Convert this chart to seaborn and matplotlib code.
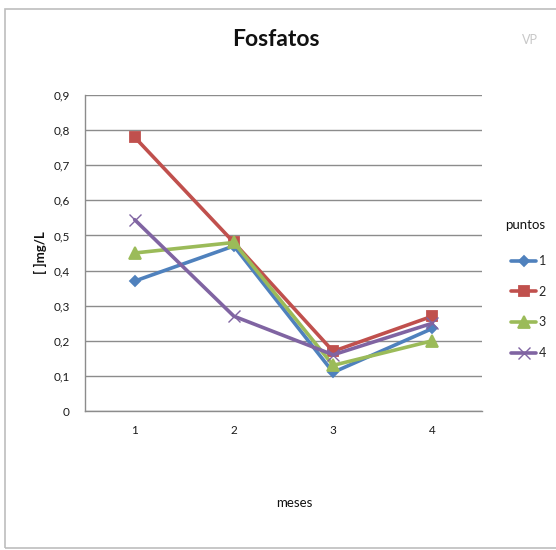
import matplotlib
matplotlib.use("Agg")
import matplotlib.pyplot as plt
from matplotlib.patches import Rectangle
import pandas as pd
import seaborn as sns

# Phosphate readings (mg/L) per sampling point over four months
meses = [1, 2, 3, 4]
punto_1 = [0.37, 0.47, 0.11, 0.235]
punto_2 = [0.78, 0.48, 0.17, 0.27]
punto_3 = [0.45, 0.48, 0.13, 0.20]
punto_4 = [0.545, 0.27, 0.16, 0.25]
puntos = ["1", "2", "3", "4"]
y_ticks = [0, 0.1, 0.2, 0.3, 0.4, 0.5, 0.6, 0.7, 0.8, 0.9]
y_tick_labels = ["0", "0,1", "0,2", "0,3", "0,4", "0,5", "0,6", "0,7", "0,8", "0,9"]

series = [punto_1, punto_2, punto_3, punto_4]
df = pd.DataFrame(
    [(m, p, v) for p, vals in zip(puntos, series) for m, v in zip(meses, vals)],
    columns=["mes", "punto", "valor"],
)

sns.set_theme(style="white")
plt.rcParams["font.family"] = ["Lato", "DejaVu Sans"]

palette = {"1": "#4F81BD", "2": "#C0504D", "3": "#9BBB59", "4": "#8064A2"}
markers = {"1": "D", "2": "s", "3": "^", "4": "x"}
msizes = {"1": 5.5, "2": 7.5, "3": 8, "4": 8}
medges = {"1": 1.3, "2": 1.3, "3": 1.3, "4": 1.0}

fig = plt.figure(figsize=(5.56, 5.5), dpi=100)
ax = fig.add_axes([85 / 556, 1 - 411 / 550, (482 - 85) / 556, (411 - 95) / 550])

for p in puntos:
    sub = df[df["punto"] == p]
    sns.lineplot(
        data=sub, x="mes", y="valor", color=palette[p], marker=markers[p],
        markersize=msizes[p], markeredgewidth=medges[p],
        markeredgecolor=palette[p], linewidth=2.6, label=p, ax=ax,
    )

ax.set_xlim(0.5, 4.5)
ax.set_ylim(0, 0.9)
ax.set_xticks(meses)
ax.set_xticklabels([str(m) for m in meses], fontsize=8.5, color="#1A1A1A")
ax.set_yticks(y_ticks)
ax.set_yticklabels(y_tick_labels, fontsize=8.5, color="#1A1A1A")
ax.tick_params(axis="both", length=0, pad=10)
ax.tick_params(axis="y", pad=11)
ax.grid(axis="y", color="#8C8C8C", linewidth=1)
ax.set_axisbelow(True)
for side in ["top", "right"]:
    ax.spines[side].set_visible(False)
for side in ["left", "bottom"]:
    ax.spines[side].set_color("#8C8C8C")
    ax.spines[side].set_linewidth(1)
ax.set_xlabel("")
ax.set_ylabel("")

fig.text(276 / 556, 1 - 40 / 550, "Fosfatos", ha="center", va="center",
         fontsize=16.5, fontweight="bold", color="#111111")
fig.text(530 / 556, 1 - 40 / 550, "VP", ha="center", va="center",
         fontsize=9, color="#C8C8C8")
fig.text(40 / 556, 1 - 253 / 550, "[ ]mg/L", ha="center", va="center",
         rotation=90, fontsize=9.5, fontweight="bold", color="#111111")
fig.text(294 / 556, 1 - 503 / 550, "meses", ha="center", va="center",
         fontsize=9.5, color="#111111")
fig.text(525 / 556, 1 - 225 / 550, "puntos", ha="center", va="center",
         fontsize=9.5, color="#111111")

handles, labels = ax.get_legend_handles_labels()
ax.legend_.remove()
leg = fig.legend(
    handles, labels, loc="upper left",
    bbox_to_anchor=(506 / 556, 1 - 250 / 550), frameon=False,
    fontsize=9, handlelength=2.0, handletextpad=0.2,
    labelspacing=1.5, borderaxespad=0, borderpad=0.4,
)

fig.patches.append(Rectangle((5 / 556, 2 / 550), 1.2, (548 - 9) / 550,
                             transform=fig.transFigure, fill=False,
                             edgecolor="#BDBDBD", linewidth=1.2))

fig.savefig("out.png", dpi=100, facecolor="white")
